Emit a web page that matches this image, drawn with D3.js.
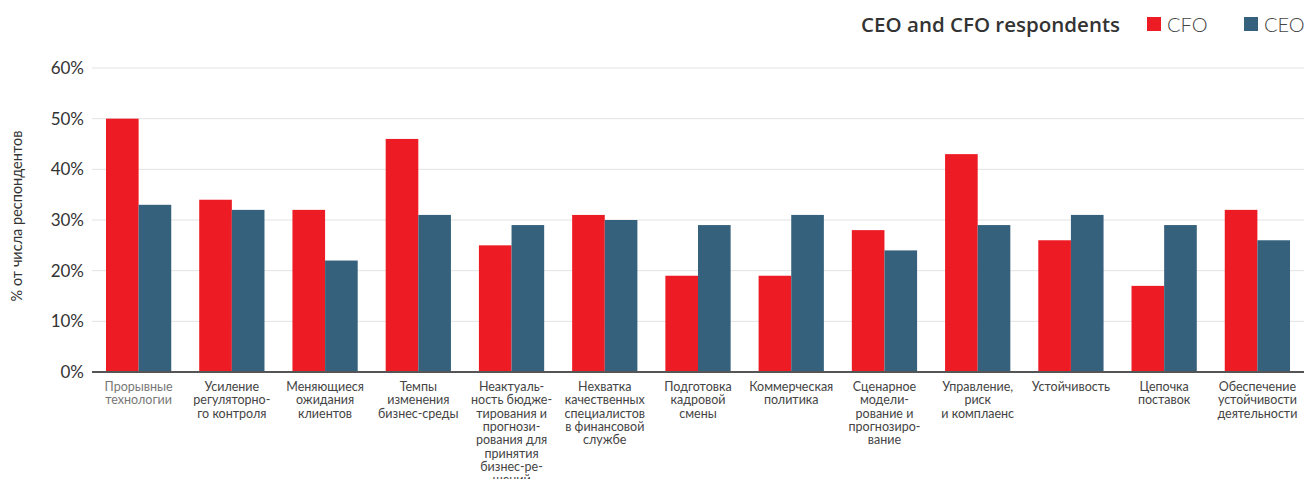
<!DOCTYPE html>
<html>
<head>
<meta charset="utf-8">
<script src="https://cdn.jsdelivr.net/npm/d3@7"></script>
<style>
  html, body { margin: 0; padding: 0; background: #fff; }
  svg { display: block; font-family: Lato, "Open Sans", sans-serif; }
</style>
</head>
<body>
<svg id="chart" width="1312" height="479"></svg>
<script>
// Category labels, already broken into lines
const categories = [
  ["Прорывные", "технологии"],
  ["Усиление", "регуляторно-", "го контроля"],
  ["Меняющиеся", "ожидания", "клиентов"],
  ["Темпы", "изменения", "бизнес-среды"],
  ["Неактуаль-", "ность бюдже-", "тирования и", "прогнози-", "рования для", "принятия", "бизнес-ре-", "шений"],
  ["Нехватка", "качественных", "специалистов", "в финансовой", "службе"],
  ["Подготовка", "кадровой", "смены"],
  ["Коммерческая", "политика"],
  ["Сценарное", "модели-", "рование и", "прогнозиро-", "вание"],
  ["Управление,", "риск", "и комплаенс"],
  ["Устойчивость"],
  ["Цепочка", "поставок"],
  ["Обеспечение", "устойчивости", "деятельности"]
];
const cfoValues = [50, 34, 32, 46, 25, 31, 19, 19, 28, 43, 26, 17, 32];
const ceoValues = [33, 32, 22, 31, 29, 30, 29, 31, 24, 29, 31, 29, 26];
const seriesNames = ["CFO", "CEO"];
const yTicks = [0, 10, 20, 30, 40, 50, 60];

const colors = { CFO: "#ED1C24", CEO: "#36617C" };

const svg = d3.select("#chart");
const plotLeft = 92, plotRight = 1304, plotTop = 68, plotBottom = 372;

const x = d3.scaleBand()
  .domain(d3.range(categories.length))
  .range([plotLeft, plotRight])
  .paddingInner(0.3)
  .paddingOuter(0.15);

const xs = d3.scaleBand().domain(seriesNames).range([0, x.bandwidth()]);

const y = d3.scaleLinear().domain([0, 60]).range([plotBottom, plotTop]);

// Horizontal grid
svg.append("g")
  .selectAll("line")
  .data(yTicks.filter(t => t > 0))
  .join("line")
  .attr("x1", plotLeft).attr("x2", plotRight)
  .attr("y1", d => y(d)).attr("y2", d => y(d))
  .attr("stroke", "#e3e3e3").attr("stroke-width", 1);

// Y axis labels
const yAxis = svg.append("g")
  .attr("transform", `translate(${plotLeft},0)`)
  .call(d3.axisLeft(y).tickValues(yTicks).tickFormat(d => d + "%").tickSize(0).tickPadding(8));
yAxis.select(".domain").remove();
yAxis.selectAll("text")
  .attr("font-size", 17)
  .attr("fill", "#333")
  .attr("font-family", "Lato, 'Open Sans', sans-serif");

// Y axis title
svg.append("text")
  .attr("transform", `translate(22, 216) rotate(-90)`)
  .attr("text-anchor", "middle")
  .attr("font-size", 14.5)
  .attr("fill", "#333")
  .text("% от числа респондентов");

// Bars
const groups = svg.append("g")
  .selectAll("g")
  .data(categories.map((c, i) => ({ i, CFO: cfoValues[i], CEO: ceoValues[i] })))
  .join("g")
  .attr("transform", d => `translate(${x(d.i)},0)`);

groups.selectAll("rect")
  .data(d => seriesNames.map(s => ({ s, v: d[s] })))
  .join("rect")
  .attr("x", d => xs(d.s))
  .attr("y", d => y(d.v))
  .attr("width", xs.bandwidth())
  .attr("height", d => y(0) - y(d.v))
  .attr("fill", d => colors[d.s]);

// Baseline
svg.append("line")
  .attr("x1", plotLeft).attr("x2", plotRight)
  .attr("y1", y(0)).attr("y2", y(0))
  .attr("stroke", "#555").attr("stroke-width", 2);

// Category labels
const labels = svg.append("g")
  .selectAll("text")
  .data(categories)
  .join("text")
  .attr("text-anchor", "middle")
  .attr("font-size", 12.5)
  .attr("fill", (d, i) => i === 0 ? "#777" : "#444")
  .attr("transform", (d, i) => `translate(${x(i) + x.bandwidth() / 2}, ${plotBottom + 19})`);

labels.selectAll("tspan")
  .data(d => d)
  .join("tspan")
  .attr("x", 0)
  .attr("y", (d, j) => j * 13.3)
  .text(d => d);

// Legend
const legend = svg.append("g");
legend.append("text")
  .attr("x", 1120).attr("y", 32)
  .attr("text-anchor", "end")
  .attr("font-size", 20.5)
  .attr("font-weight", 600)
  .attr("font-family", "'Open Sans', Lato, sans-serif")
  .attr("fill", "#333")
  .text("CEO and CFO respondents");

const legendX = { CFO: 1147, CEO: 1244 };
seriesNames.forEach(s => {
  legend.append("rect")
    .attr("x", legendX[s]).attr("y", 17)
    .attr("width", 14).attr("height", 14)
    .attr("fill", colors[s]);
  legend.append("text")
    .attr("x", legendX[s] + 20).attr("y", 32)
    .attr("font-size", 20)
    .attr("font-weight", 300)
    .attr("fill", "#444")
    .text(s);
});
</script>
</body>
</html>
